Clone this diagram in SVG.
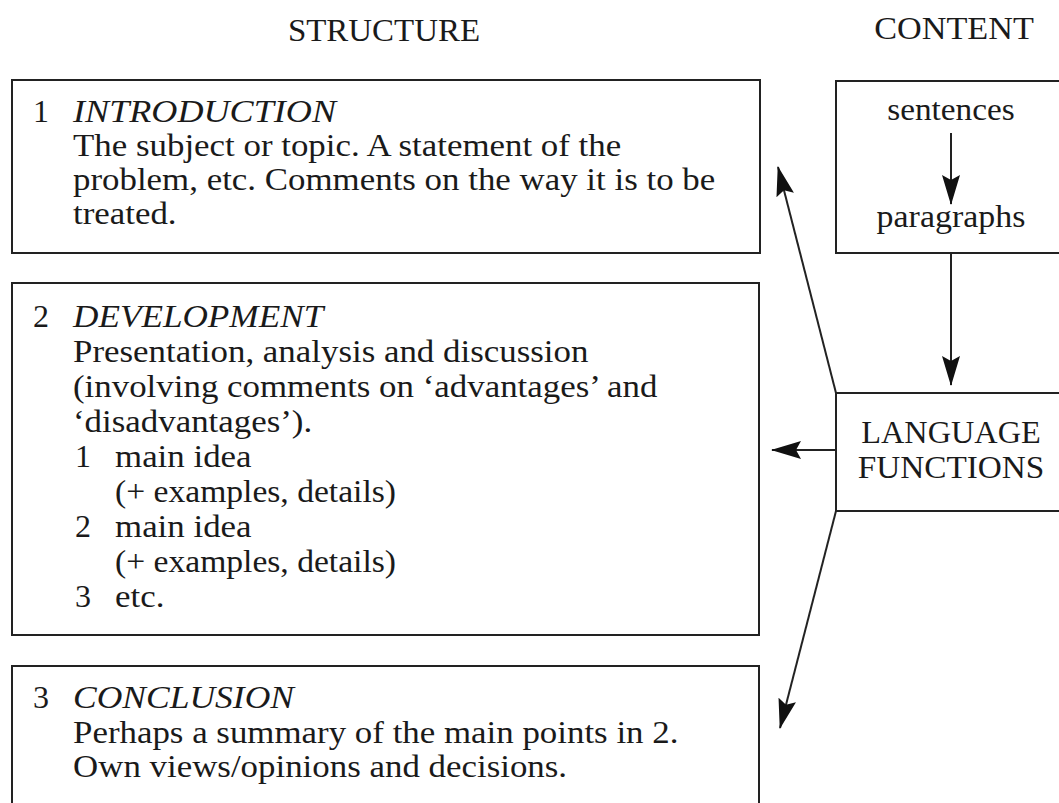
<svg xmlns="http://www.w3.org/2000/svg" width="1059" height="803" viewBox="0 0 1059 803">
<style>
text{font-family:"Liberation Serif","Times New Roman",serif;font-size:32px;fill:#1a1a1a}
.it{font-style:italic}
.c{text-anchor:middle}
.box{fill:none;stroke:#222;stroke-width:2}
.conn{fill:none;stroke:#222;stroke-width:2}
</style>
<defs>
<marker id="ah" viewBox="0 0 30 20" refX="29" refY="10" markerWidth="30" markerHeight="20" markerUnits="userSpaceOnUse" orient="auto">
<path d="M0,1 L30,10 L0,19 L5,10 Z" fill="#111"/>
</marker>
</defs>
<rect width="1059" height="803" fill="#fff"/>
<g id="headers">
<text class="c" transform="translate(384,41) scale(1.03,1)">STRUCTURE</text>
<text class="c" transform="translate(954,39) scale(1.07,1)">CONTENT</text>
</g>
<g id="introduction">
<rect class="box" x="12" y="80" width="748" height="173"/>
<text x="33" y="122">1</text>
<text class="it" transform="translate(73,122) scale(1.13,1)">INTRODUCTION</text>
<text transform="translate(73,156) scale(1.09,1)">The subject or topic. A statement of the</text>
<text transform="translate(73,190) scale(1.09,1)">problem, etc. Comments on the way it is to be</text>
<text transform="translate(73,224) scale(1.09,1)">treated.</text>
</g>
<g id="development">
<rect class="box" x="12" y="283" width="747" height="352"/>
<text x="33" y="327">2</text>
<text class="it" transform="translate(73,327) scale(1.1,1)">DEVELOPMENT</text>
<text transform="translate(73,362) scale(1.09,1)">Presentation, analysis and discussion</text>
<text transform="translate(73,397) scale(1.09,1)">(involving comments on ‘advantages’ and</text>
<text transform="translate(73,432) scale(1.09,1)">‘disadvantages’).</text>
<text x="75" y="467">1</text>
<text transform="translate(115,467) scale(1.09,1)">main idea</text>
<text transform="translate(115,502) scale(1.05,1)">(+ examples, details)</text>
<text x="75" y="537">2</text>
<text transform="translate(115,537) scale(1.09,1)">main idea</text>
<text transform="translate(115,572) scale(1.05,1)">(+ examples, details)</text>
<text x="75" y="607">3</text>
<text transform="translate(115,607) scale(1.09,1)">etc.</text>
</g>
<g id="conclusion">
<rect class="box" x="12" y="666" width="747" height="170"/>
<text x="33" y="708">3</text>
<text class="it" transform="translate(73,708) scale(1.11,1)">CONCLUSION</text>
<text transform="translate(73,743) scale(1.09,1)">Perhaps a summary of the main points in 2.</text>
<text transform="translate(73,777) scale(1.09,1)">Own views/opinions and decisions.</text>
</g>
<g id="content">
<rect class="box" x="836" y="81" width="240" height="172"/>
<text class="c" transform="translate(951,120) scale(1.04,1)">sentences</text>
<text class="c" transform="translate(951,227) scale(1.06,1)">paragraphs</text>
</g>
<g id="language-functions">
<rect class="box" x="836" y="393" width="240" height="118"/>
<text class="c" transform="translate(951,443) scale(1.01,1)">LANGUAGE</text>
<text class="c" transform="translate(951,478) scale(1.04,1)">FUNCTIONS</text>
</g>
<g id="connectors">
<line class="conn" x1="951" y1="133" x2="951" y2="204" marker-end="url(#ah)"/>
<line class="conn" x1="951" y1="254" x2="951" y2="385" marker-end="url(#ah)"/>
<line class="conn" x1="836" y1="393" x2="778" y2="167" marker-end="url(#ah)"/>
<line class="conn" x1="836" y1="450" x2="772" y2="450" marker-end="url(#ah)"/>
<line class="conn" x1="836" y1="511" x2="780" y2="728" marker-end="url(#ah)"/>
</g>
</svg>
